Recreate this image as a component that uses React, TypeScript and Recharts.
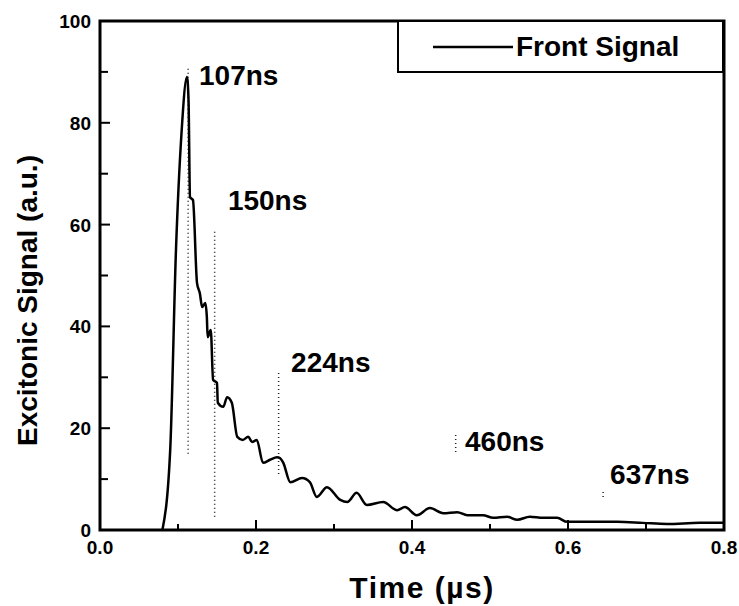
import {
  LineChart,
  Line,
  XAxis,
  YAxis,
  ReferenceLine,
  ReferenceDot,
  ReferenceArea,
  Legend,
} from "recharts";

// time in microseconds, signal in a.u.
const timeUs = [
  0.08, 0.09, 0.0974, 0.1045, 0.1115, 0.1135, 0.1154, 0.1192, 0.1244, 0.128,
  0.131, 0.135, 0.137, 0.138, 0.142, 0.145, 0.15, 0.151, 0.158, 0.163, 0.169,
  0.176, 0.183, 0.19, 0.195, 0.201, 0.209, 0.218, 0.227, 0.231, 0.235, 0.244,
  0.259, 0.269, 0.278, 0.291, 0.308, 0.317, 0.329, 0.342, 0.363, 0.381, 0.391,
  0.406, 0.423, 0.44, 0.458, 0.471, 0.491, 0.504, 0.522, 0.535, 0.551, 0.568,
  0.586, 0.599, 0.619, 0.663, 0.696, 0.727, 0.769, 0.799,
];
const frontSignal = [
  0, 15.7, 55, 78, 89, 84.5, 65.4, 64.8, 48.5, 46.5, 43.8, 44.6, 41.8, 37.9,
  39.3, 29.5, 28.9, 25, 24.2, 26.1, 25, 18.3, 17.7, 18.3, 17.3, 17.7, 13.2,
  13.8, 14.3, 14.1, 13.2, 9.4, 10.2, 9.4, 6.5, 8.4, 5.9, 5.5, 7.3, 4.9, 5.5,
  3.9, 4.5, 2.9, 4.3, 3.3, 3.5, 2.9, 2.9, 2.4, 2.6, 2.0, 2.6, 2.4, 2.4, 1.6,
  1.6, 1.6, 1.4, 1.2, 1.4, 1.4,
];

// dotted markers
const markerTimes = [0.113, 0.147, 0.229, 0.456, 0.645];
const markerTop = [91, 59, 31, 18.7, 8];
const markerBottom = [15, 2.6, 11, 15.3, 6.5];

// annotation text anchors (left edge, vertical centre)
const noteText = ["107ns", "150ns", "224ns", "460ns", "637ns"];
const noteX = [0.127, 0.164, 0.245, 0.468, 0.654];
const noteY = [89.4, 64.8, 33, 17.5, 11];

const xMajor = [0, 0.2, 0.4, 0.6, 0.8];
const xMinor = [0.1, 0.3, 0.5, 0.7];
const yMajor = [0, 20, 40, 60, 80, 100];
const yMinor = [10, 30, 50, 70, 90];

const xTicks = [...xMajor, ...xMinor].sort((a, b) => a - b);
const yTicks = [...yMajor, ...yMinor].sort((a, b) => a - b);

const data = timeUs.map((t, i) => ({ t, v: frontSignal[i] }));

const FONT = "'Liberation Sans', Arial, Helvetica, sans-serif";

// plot box (follows from the chart margins / axis sizes below)
const W = 739;
const H = 606;
const M_TOP = 21;
const M_RIGHT = 15;
const Y_AXIS_W = 100;
const X_AXIS_H = 76;
const PLOT_LEFT = Y_AXIS_W;
const PLOT_RIGHT = W - M_RIGHT;
const PLOT_TOP = M_TOP;
const PLOT_BOTTOM = H - X_AXIS_H;

const isMajor = (list: number[], v: number) =>
  list.some((m) => Math.abs(m - v) < 1e-9);

const BottomTick = (props: any) => {
  const { x, payload } = props;
  const major = isMajor(xMajor, payload.value);
  const y = PLOT_BOTTOM;
  return (
    <g>
      <line x1={x} x2={x} y1={y} y2={y - (major ? 10 : 6)} stroke="#000" strokeWidth={2} />
      {major && (
        <text x={x} y={y + 24} textAnchor="middle" fontSize={19} fontWeight={700} fill="#000">
          {Number(payload.value).toFixed(1)}
        </text>
      )}
    </g>
  );
};

const TopTick = (props: any) => {
  const { x, payload } = props;
  const major = isMajor(xMajor, payload.value);
  const y = PLOT_TOP;
  return <line x1={x} x2={x} y1={y} y2={y + (major ? 10 : 6)} stroke="#000" strokeWidth={2} />;
};

const LeftTick = (props: any) => {
  const { y, payload } = props;
  const major = isMajor(yMajor, payload.value);
  const x = PLOT_LEFT;
  return (
    <g>
      <line x1={x} x2={x + (major ? 10 : 8)} y1={y} y2={y} stroke="#000" strokeWidth={2} />
      {major && (
        <text x={x - 9} y={y + 7} textAnchor="end" fontSize={19} fontWeight={700} fill="#000">
          {payload.value}
        </text>
      )}
    </g>
  );
};

const RightTick = (props: any) => {
  const { y, payload } = props;
  const major = isMajor(yMajor, payload.value);
  const x = PLOT_RIGHT;
  return <line x1={x} x2={x - (major ? 10 : 8)} y1={y} y2={y} stroke="#000" strokeWidth={2} />;
};

export default function App() {
  return (
    <div style={{ position: "absolute", left: 0, top: 0, fontFamily: FONT, background: "#fff" }}>
      <LineChart
        width={W}
        height={H}
        data={data}
        margin={{ top: M_TOP, right: M_RIGHT, left: 0, bottom: 0 }}
      >
        <XAxis
          xAxisId={0}
          dataKey="t"
          type="number"
          domain={[0, 0.8]}
          ticks={xTicks}
          interval={0}
          height={X_AXIS_H}
          tickLine={false}
          axisLine={false}
          tick={<BottomTick />}
          label={(p: any) => {
            const vb = p.viewBox;
            return (
              <text
                x={vb.x + vb.width / 2 + 10}
                y={PLOT_BOTTOM + 68}
                textAnchor="middle"
                fontSize={30}
                fontWeight={700}
                letterSpacing={1.5}
                fill="#000"
              >
                Time (µs)
              </text>
            );
          }}
        />
        <XAxis
          xAxisId="top"
          orientation="top"
          dataKey="t"
          type="number"
          domain={[0, 0.8]}
          ticks={xTicks}
          interval={0}
          height={0}
          tickLine={false}
          axisLine={false}
          tick={<TopTick />}
        />
        <YAxis
          yAxisId={0}
          type="number"
          domain={[0, 100]}
          ticks={yTicks}
          interval={0}
          width={Y_AXIS_W}
          tickLine={false}
          axisLine={false}
          tick={<LeftTick />}
          label={(p: any) => {
            const vb = p.viewBox;
            const cx = 27;
            const cy = vb.y + vb.height / 2 + 25;
            return (
              <text
                x={cx}
                y={cy}
                transform={`rotate(-90 ${cx} ${cy})`}
                textAnchor="middle"
                dominantBaseline="central"
                fontSize={28}
                fontWeight={700}
                fill="#000"
              >
                Excitonic Signal (a.u.)
              </text>
            );
          }}
        />
        <YAxis
          yAxisId="right"
          orientation="right"
          type="number"
          domain={[0, 100]}
          ticks={yTicks}
          interval={0}
          width={0}
          tickLine={false}
          axisLine={false}
          tick={<RightTick />}
        />

        <ReferenceArea
          x1={0}
          x2={0.8}
          y1={0}
          y2={100}
          fill="none"
          fillOpacity={0}
          stroke="#000"
          strokeWidth={3}
        />

        {markerTimes.map((t, i) => (
          <ReferenceLine
            key={"m" + i}
            segment={[
              { x: t, y: markerBottom[i] },
              { x: t, y: markerTop[i] },
            ]}
            stroke="#222"
            strokeWidth={1.5}
            strokeDasharray="1 3"
          />
        ))}

        <Line
          type="monotone"
          dataKey="v"
          name="Front Signal"
          stroke="#000"
          strokeWidth={2.5}
          dot={false}
          isAnimationActive={false}
        />

        {noteText.map((txt, i) => (
          <ReferenceDot
            key={"n" + i}
            x={noteX[i]}
            y={noteY[i]}
            r={0}
            fill="none"
            stroke="none"
            label={{
              value: txt,
              position: "right",
              offset: 0,
              fill: "#000",
              fontSize: 28,
              fontWeight: 700,
            }}
          />
        ))}

        <Legend
          layout="horizontal"
          verticalAlign="middle"
          align="center"
          wrapperStyle={{ position: "absolute", left: 397, top: 20, width: 327, height: 53 }}
          content={() => (
            <div
              style={{
                width: 327,
                height: 53,
                border: "2px solid #000",
                boxSizing: "border-box",
                position: "relative",
                background: "#fff",
              }}
            >
              <svg width={90} height={53} style={{ position: "absolute", left: 30, top: 0 }}>
                <line x1={4} x2={84} y1={25} y2={25} stroke="#000" strokeWidth={2.5} />
              </svg>
              <span
                style={{
                  position: "absolute",
                  left: 117,
                  top: 8,
                  fontSize: 28,
                  fontWeight: 700,
                  lineHeight: "34px",
                  color: "#000",
                  whiteSpace: "nowrap",
                }}
              >
                Front Signal
              </span>
            </div>
          )}
        />
      </LineChart>
    </div>
  );
}
